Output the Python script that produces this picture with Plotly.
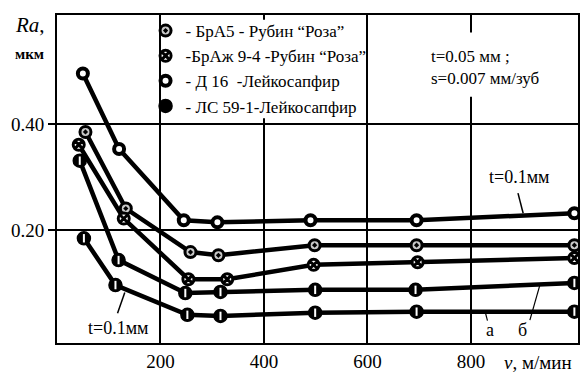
import plotly.graph_objects as go

# speeds (m/min) and roughness Ra (um) for each series
x_d16 = [50, 120, 245, 310, 490, 695, 1000]
y_d16 = [0.495, 0.353, 0.219, 0.215, 0.219, 0.219, 0.232]

x_bra5 = [55, 133, 258, 312, 498, 695, 1000]
y_bra5 = [0.385, 0.241, 0.159, 0.153, 0.172, 0.172, 0.172]

x_braj = [42, 129, 254, 329, 496, 697, 1000]
y_braj = [0.361, 0.222, 0.108, 0.108, 0.135, 0.140, 0.148]

x_ls_b = [44, 119, 248, 316, 499, 693, 1000]
y_ls_b = [0.331, 0.144, 0.082, 0.084, 0.088, 0.088, 0.101]

x_ls_a = [52, 113, 252, 316, 499, 695, 1000]
y_ls_a = [0.185, 0.097, 0.041, 0.039, 0.045, 0.047, 0.047]

x_ticks = [200, 400, 600, 800]
y_ticks = [0.20, 0.40]
y_tick_labels = ["0.20", "0.40"]

legend_names = [
    "- БрА5 - Рубин “Роза”",
    "-БрАж 9-4 -Рубин “Роза”",
    "- Д 16  -Лейкосапфир",
    "- ЛС 59-1-Лейкосапфир",
]

FONT = "Liberation Serif"
LW = 4.5

m_bra5 = dict(symbol="circle-dot", size=11, color="#c8c8c8", line=dict(color="black", width=3))
m_braj = dict(symbol="circle-x", size=11, color="white", line=dict(color="black", width=3))
m_d16 = dict(symbol="circle", size=10, color="white", line=dict(color="black", width=4))
m_ls = dict(symbol="circle", size=13, color="black", line=dict(color="black", width=1.5))

fig = go.Figure()

def line_trace(x, y, marker):
    fig.add_trace(go.Scatter(x=x, y=y, mode="lines+markers",
                             line=dict(color="black", width=LW),
                             marker=marker, showlegend=False, cliponaxis=False))

line_trace(x_d16, y_d16, m_d16)
line_trace(x_bra5, y_bra5, m_bra5)
line_trace(x_braj, y_braj, m_braj)
line_trace(x_ls_b, y_ls_b, m_ls)
line_trace(x_ls_a, y_ls_a, m_ls)
# white slit inside the ЛС markers
for xs, ys in [(x_ls_b, y_ls_b), (x_ls_a, y_ls_a)]:
    fig.add_trace(go.Scatter(x=xs, y=ys, mode="markers",
                             marker=dict(symbol="line-ns", size=6,
                                         line=dict(color="white", width=2)),
                             showlegend=False, cliponaxis=False))

# legend entries
for name, mk, g in zip(legend_names, [m_bra5, m_braj, m_d16, m_ls], "abcd"):
    fig.add_trace(go.Scatter(x=[None], y=[None], mode="markers", marker=mk,
                             name=name, legendgroup=g, showlegend=True))

shapes = [
    # legend cell background (hides the 400 grid line inside)
    dict(type="rect", xref="x", yref="y", x0=204, x1=596, y0=0.411, y1=0.596,
         fillcolor="white", line=dict(width=0), layer="above"),
    # parameter text background (hides the 800 grid line)
    dict(type="rect", xref="x", yref="y", x0=760, x1=840, y0=0.451, y1=0.572,
         fillcolor="white", line=dict(width=0), layer="above"),
    # leader lines
    dict(type="line", xref="x", yref="y", x0=891, y0=0.270, x1=901, y1=0.232,
         line=dict(color="black", width=1.5)),
    dict(type="line", xref="x", yref="y", x0=131, y0=0.083, x1=117, y1=0.044,
         line=dict(color="black", width=1.5)),
    dict(type="line", xref="x", yref="y", x0=828, y0=0.045, x1=832, y1=0.030,
         line=dict(color="black", width=1.2)),
    dict(type="line", xref="x", yref="y", x0=914, y0=0.031, x1=933, y1=0.096,
         line=dict(color="black", width=1.2)),
]

annotations = [
    dict(text="t=0.05 мм ;<br>s=0.007 мм/зуб", xref="x", yref="y", x=719, y=0.507,
         xanchor="left", yanchor="middle", align="left", showarrow=False,
         font=dict(family=FONT, size=17, color="black")),
    dict(text="t=0.1мм", xref="x", yref="y", x=893, y=0.300, showarrow=False,
         font=dict(family=FONT, size=18, color="black")),
    dict(text="t=0.1мм", xref="x", yref="y", x=117, y=0.017, showarrow=False,
         font=dict(family=FONT, size=18, color="black")),
    dict(text="а", xref="x", yref="y", x=837, y=0.013, showarrow=False,
         font=dict(family=FONT, size=18, color="black")),
    dict(text="б", xref="x", yref="y", x=899, y=0.013, showarrow=False,
         font=dict(family=FONT, size=18, color="black")),
    dict(text="<i>Ra</i>,", xref="paper", yref="paper", x=-0.052, y=0.97,
         xanchor="center", yanchor="middle", showarrow=False,
         font=dict(family=FONT, size=21, color="black")),
    dict(text="<b>мкм</b>", xref="paper", yref="paper", x=-0.052, y=0.882,
         xanchor="center", yanchor="middle", showarrow=False,
         font=dict(family=FONT, size=15, color="black")),
    dict(text="<i>v</i>, м/мин", xref="paper", yref="paper", x=0.854, y=-0.058,
         xanchor="left", yanchor="middle", showarrow=False,
         font=dict(family=FONT, size=19, color="black")),
]

# the page body adds an 8px offset, so the figure is sized 580x365
fig.update_layout(
    template="none",
    width=580, height=365,
    margin=dict(l=49, r=10, t=7, b=30, autoexpand=False),
    paper_bgcolor="white", plot_bgcolor="white",
    font=dict(family=FONT, size=19, color="black"),
    shapes=shapes, annotations=annotations,
    legend=dict(x=0.17, y=1.006, xanchor="left", yanchor="top",
                bgcolor="rgba(0,0,0,0)", font=dict(family=FONT, size=17),
                tracegroupgap=0, itemsizing="trace"),
    xaxis=dict(range=[0, 1007], tickvals=x_ticks, ticks="", showgrid=True,
               gridcolor="black", gridwidth=1.5, showline=True, linecolor="black",
               linewidth=2, mirror=True, zeroline=False, automargin=False,
               tickfont=dict(family=FONT, size=19)),
    yaxis=dict(range=[-0.012, 0.605], tickvals=y_ticks, ticktext=y_tick_labels,
               ticks="outside", ticklen=7, tickwidth=2, tickcolor="black",
               showgrid=True, gridcolor="black", gridwidth=1.5, showline=True,
               linecolor="black", linewidth=2, mirror=True, zeroline=False,
               automargin=False, tickfont=dict(family=FONT, size=19)),
)

fig.write_html("out.html")
